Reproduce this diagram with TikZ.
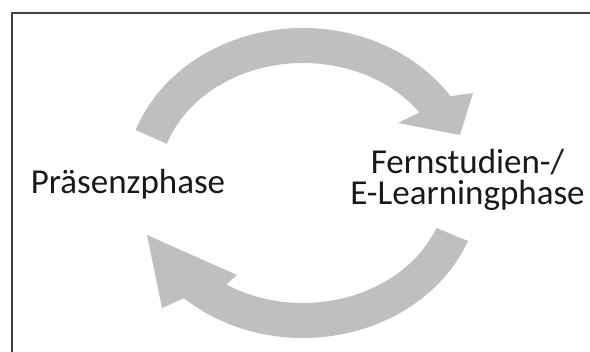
\documentclass[tikz,border=0pt]{standalone}
\usepackage{fontspec}
\setmainfont{Carlito}
\definecolor{arrowgray}{RGB}{191,191,191}
\definecolor{framegray}{RGB}{64,64,64}
\begin{document}
\begin{tikzpicture}[x=1pt,y=1pt,
    phase/.style={inner sep=0pt, text=black!90, align=center,
      font=\fontsize{35}{31}\selectfont},
    cyclearrow/.style={fill=arrowgray}]
  \useasboundingbox (0,0) rectangle (590,-352);
  % frame, only its top and left edge lie in the picture
  \coordinate (fbl) at (11.7,-352);
  \coordinate (ftl) at (11.7,-13);
  \coordinate (ftr) at (590,-13);
  \draw[framegray, line width=2pt] (fbl) -- (ftl) -- (ftr);
  % centre of the cycle
  \coordinate (c) at (303,-183);
  % upper arrow
  \fill[cyclearrow] ([shift={(160:178 and 155)}]c)
      arc[start angle=160, end angle=34, x radius=178, y radius=155]
      -- (473,-93) -- (460,-135) -- (398,-123)
      -- ([shift={(36:144 and 120)}]c)
      arc[start angle=36, end angle=161, x radius=144, y radius=120] -- cycle;
  % lower arrow
  \fill[cyclearrow] ([shift={(-22:178 and 155)}]c)
      arc[start angle=-22, end angle=-132, x radius=178, y radius=155]
      -- (162,-308) -- (147,-235) -- (237,-275) -- (228,-283)
      -- ([shift={(-122:144 and 120)}]c)
      arc[start angle=-122, end angle=-22, x radius=144, y radius=120] -- cycle;
  \node[phase, anchor=base] (praesenz) at (128,-193.3) {Präsenzphase};
  \node[phase, anchor=base] (fernstudium) at (467.5,-205) {Fernstudien-/\\E-Learningphase};
\end{tikzpicture}
\end{document}
